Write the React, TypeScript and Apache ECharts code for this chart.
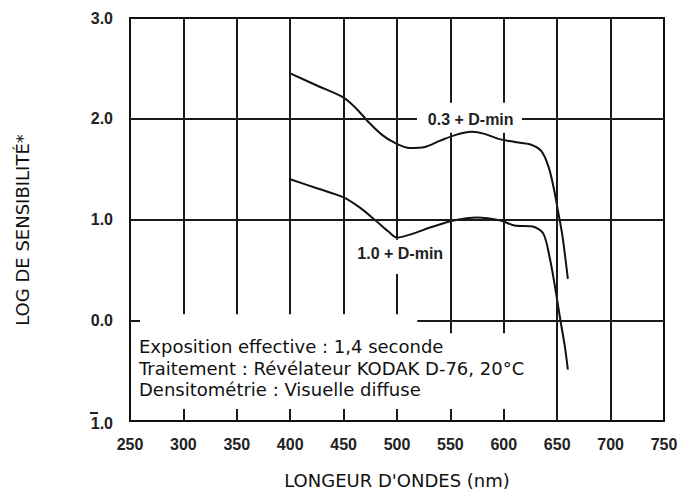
import React, { useEffect, useRef } from "react";
import * as echarts from "echarts";

// Wavelength (nm) vs log sensitivity
const upperCurve: [number, number][] = [
  [400, 2.45], [425, 2.33], [450, 2.21], [462, 2.1], [474, 1.96], [486, 1.84],
  [498, 1.76], [512, 1.71], [526, 1.72], [540, 1.78], [555, 1.84], [570, 1.87],
  [582, 1.85], [595, 1.8], [610, 1.77], [625, 1.745], [635, 1.68], [642, 1.52],
  [647, 1.3], [651, 1.07], [655, 0.83], [660, 0.41],
];
const lowerCurve: [number, number][] = [
  [400, 1.4], [425, 1.31], [450, 1.22], [465, 1.12], [480, 0.99], [492, 0.88],
  [500, 0.82], [515, 0.86], [531, 0.92], [553, 0.99], [575, 1.02], [597, 0.99],
  [610, 0.94], [627, 0.93], [637, 0.86], [643, 0.62], [648, 0.33], [653, 0.0],
  [657, -0.25], [660, -0.49],
];
const upperLabel = "0.3 + D-min";
const lowerLabel = "1.0 + D-min";
const upperLabelAt: [number, number] = [569, 1.99];
const lowerLabelAt: [number, number] = [503, 0.66];

// Grid segments of the original drawing (data coordinates, with its breaks)
const gridSegments: [[number, number], [number, number]][] = [
  [[300, 3], [300, 0.06]], [[300, -1], [300, -0.88]],
  [[350, 3], [350, 0.06]], [[350, -1], [350, -0.88]],
  [[400, 3], [400, 0.06]], [[400, -1], [400, -0.88]],
  [[450, 3], [450, 0.06]], [[450, -1], [450, -0.88]],
  [[500, 3], [500, 0.8]], [[500, 0.46], [500, 0.06]], [[500, -1], [500, -0.88]],
  [[550, 3], [550, 2.16]], [[550, 1.86], [550, -0.13]], [[550, -1], [550, -0.88]],
  [[600, 3], [600, 2.16]], [[600, 1.86], [600, -0.13]], [[600, -1], [600, -0.88]],
  [[650, 3], [650, -1]],
  [[700, 3], [700, -1]],
  [[250, 2], [518.7, 2]], [[617, 2], [750, 2]],
  [[250, 1], [750, 1]],
  [[250, 0], [259.4, 0]], [[519, 0], [750, 0]],
];

const xMin = 250, xMax = 750, xStep = 50;
const yMin = -1, yMax = 3, yStep = 1;
const xTitle = "LONGEUR D'ONDES (nm)";
const yTitle = "LOG DE SENSIBILITÉ*";
const noteLines = [
  "Exposition effective : 1,4 seconde",
  "Traitement : Révélateur KODAK D-76, 20°C",
  "Densitométrie : Visuelle diffuse",
];

export default function App() {
  const ref = useRef<HTMLDivElement>(null);
  useEffect(() => {
    if (!ref.current) return;
    const chart = echarts.init(ref.current, null, { renderer: "svg" });
    const ink = "#111";
    const tickFont = {
      fontFamily: "Liberation Sans",
      fontWeight: "bold" as const,
      fontSize: 16,
      color: "#222",
    };
    chart.setOption({
      animation: false,
      backgroundColor: "#fff",
      grid: {
        left: 130, top: 18, right: 36, bottom: 71,
        show: true, borderColor: ink, borderWidth: 2,
        backgroundColor: "transparent",
      },
      xAxis: {
        type: "value", min: xMin, max: xMax, interval: xStep,
        axisLine: { show: false }, axisTick: { show: false },
        splitLine: { show: false },
        axisLabel: { ...tickFont, margin: 15 },
        name: xTitle, nameLocation: "middle", nameGap: 50,
        nameTextStyle: { fontFamily: "DejaVu Sans", fontSize: 18, color: ink },
      },
      yAxis: {
        type: "value", min: yMin, max: yMax, interval: yStep,
        axisLine: { show: false }, axisTick: { show: false },
        splitLine: { show: false },
        axisLabel: {
          ...tickFont, margin: 17,
          formatter: (v: number) =>
            v === -1 ? "{bar|}{sp|}\n{n|1.0}" : v.toFixed(1),
          rich: {
            bar: { width: 8, height: 2, backgroundColor: "#222", lineHeight: 4 },
            sp: { width: 15, height: 2, lineHeight: 4 },
            n: { ...tickFont, lineHeight: 16 },
          },
        },
      },
      graphic: [
        {
          type: "text", x: 22, y: 230, rotation: Math.PI / 2,
          style: {
            text: yTitle, font: "18px 'DejaVu Sans'", fill: ink,
            align: "center", verticalAlign: "middle",
          },
        },
        {
          type: "text", left: 139, top: 336,
          style: {
            text: noteLines.join("\n"), font: "18px 'DejaVu Sans'",
            lineHeight: 21.5, fill: ink,
          },
        },
      ],
      series: [
        {
          type: "line", data: upperCurve, smooth: 0.3, symbol: "none",
          lineStyle: { color: ink, width: 2 },
          markLine: {
            silent: true, symbol: ["none", "none"], animation: false,
            lineStyle: { color: "#1a1a1a", width: 2, type: "solid" },
            label: { show: false },
            data: gridSegments.map(([a, b]) => [{ coord: a }, { coord: b }]),
          },
          markPoint: {
            symbol: "circle", symbolSize: 0, silent: true,
            label: {
              show: true, position: "inside", formatter: "{b}",
              fontFamily: "Liberation Sans", fontWeight: "bold", fontSize: 16, color: "#222",
            },
            data: [
              { name: upperLabel, coord: upperLabelAt },
              { name: lowerLabel, coord: lowerLabelAt },
            ],
          },
          z: 3,
        },
        {
          type: "line", data: lowerCurve, smooth: 0.3, symbol: "none",
          lineStyle: { color: ink, width: 2 }, z: 3,
        },
      ],
    });
    return () => chart.dispose();
  }, []);
  return <div ref={ref} style={{ width: 700, height: 494, position: "absolute", left: 0, top: 0 }} />;
}
